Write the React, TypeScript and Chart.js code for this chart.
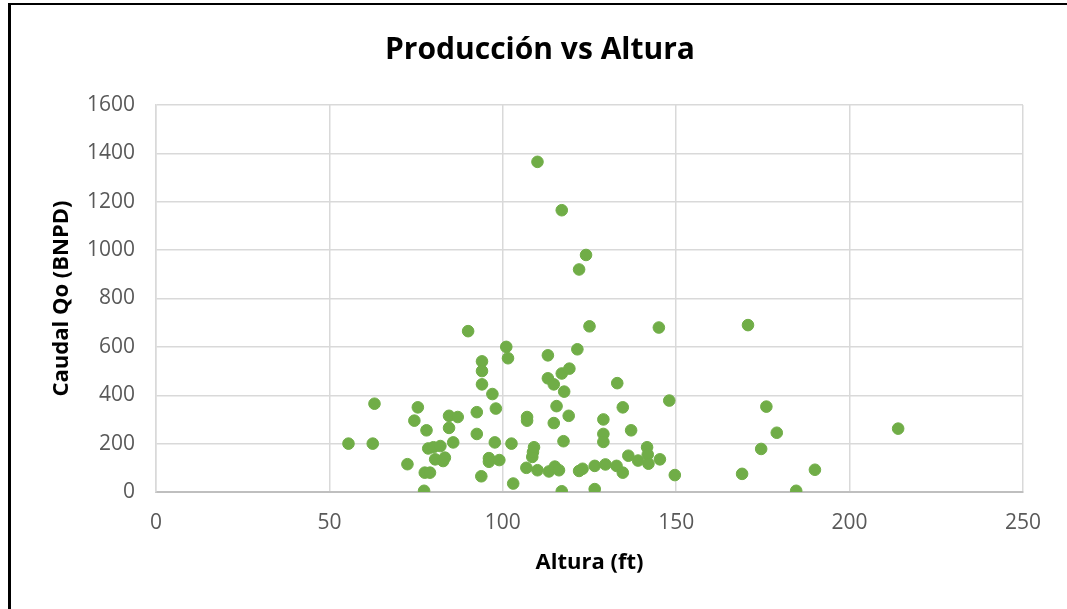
import React, { useEffect, useRef } from "react";
import { Chart, registerables } from "chart.js";

Chart.register(...registerables);

const chartTitle = "Producción vs Altura";
const xAxisTitle = "Altura (ft)";
const yAxisTitle = "Caudal Qo (BNPD)";

const alturaFt: number[] = [
  55.5, 62.5, 63, 72.5, 74.5, 75.5, 77.3, 77.5, 79, 78, 78.5, 80, 82, 80.5, 82.8, 83.3,
  84.5, 87, 84.5, 85.7, 90, 92.5, 92.5, 93.8, 94, 94, 94, 96, 96, 97, 97.7, 98, 99,
  101, 101.5, 102.5, 103, 106.8, 107, 107, 108.5, 108.7, 109, 110, 110, 113, 113, 113.3,
  114.7, 114.7, 115, 115.5, 116.2, 117, 117, 117, 117.5, 117.7, 119, 119.2, 121.5, 122,
  122, 123, 124, 125, 126.5, 126.5, 129, 129, 129, 129.6, 132.8, 133, 134.6, 134.6,
  136.2, 137, 139, 141.6, 141.8, 142, 145, 145.3, 148, 149.6, 169, 170.7, 174.5, 176,
  179, 184.6, 190, 214,
];

const caudalQo: number[] = [
  200, 200, 365, 115, 295, 350, 5, 80, 80, 255, 180, 185, 190, 135, 128, 142,
  315, 310, 265, 205, 665, 330, 240, 65, 540, 500, 445, 140, 125, 405, 205, 345, 132,
  600, 553, 200, 35, 100, 310, 295, 145, 165, 185, 90, 1365, 565, 470, 85,
  445, 285, 105, 355, 90, 3, 490, 1165, 210, 415, 315, 510, 590, 920,
  87, 96, 980, 685, 108, 12, 300, 240, 207, 114, 108, 450, 350, 80,
  150, 255, 130, 185, 155, 117, 680, 135, 378, 70, 75, 690, 178, 353,
  245, 5, 92, 262,
];

const xTicks = { min: 0, max: 250, step: 50 };
const yTicks = { min: 0, max: 1600, step: 200 };

const W = 1067;
const H = 609;
const PLOT_LEFT = 156;
const PLOT_RIGHT = 1023;
const PLOT_TOP = 105;
const PLOT_BOTTOM = 492;

export default function App() {
  const ref = useRef<HTMLCanvasElement | null>(null);

  useEffect(() => {
    if (!ref.current) return;
    const points = alturaFt.map((x, i) => ({ x, y: caudalQo[i] }));

    const titlePlugin = {
      id: "customTitle",
      afterDraw(chart: any) {
        const ctx = chart.ctx;
        ctx.save();
        ctx.font = "bold 30px 'Open Sans'";
        ctx.fillStyle = "#000000";
        ctx.textAlign = "center";
        ctx.textBaseline = "middle";
        ctx.fillText(chartTitle, 540, 50);
        ctx.restore();
      },
    };

    const chart = new Chart(ref.current, {
      type: "scatter",
      data: {
        datasets: [
          {
            label: "Caudal",
            data: points,
            backgroundColor: "#70ad47",
            borderColor: "#70ad47",
            borderWidth: 1,
            pointRadius: 5.8,
            pointHoverRadius: 5.8,
          },
        ],
      },
      options: {
        responsive: false,
        animation: false,
        layout: {
          padding: { left: 0, right: W - PLOT_RIGHT, top: PLOT_TOP, bottom: 0 },
        },
        plugins: {
          legend: { display: false },
          title: { display: false },
          tooltip: { enabled: false },
        },
        scales: {
          x: {
            type: "linear",
            min: xTicks.min,
            max: xTicks.max,
            ticks: {
              stepSize: xTicks.step,
              color: "#595959",
              font: { family: "'Open Sans'", size: 21 },
              padding: 18,
              maxRotation: 0,
              callback: (v: any) => String(v),
            },
            grid: { color: "#d9d9d9", lineWidth: 1.5, drawTicks: false },
            border: { color: "#bfbfbf", width: 2 },
            title: {
              display: true,
              text: xAxisTitle,
              color: "#000000",
              font: { family: "'Open Sans'", size: 22, weight: "bold" },
              padding: { top: 0, bottom: 33 },
            },
            afterFit(scale: any) {
              scale.height = H - PLOT_BOTTOM;
            },
          },
          y: {
            type: "linear",
            min: yTicks.min,
            max: yTicks.max,
            ticks: {
              stepSize: yTicks.step,
              color: "#595959",
              font: { family: "'Open Sans'", size: 21 },
              padding: 21,
              callback: (v: any) => String(v),
            },
            grid: { color: "#d9d9d9", lineWidth: 1.5, drawTicks: false },
            border: { color: "#d9d9d9", width: 1.5 },
            title: {
              display: true,
              text: yAxisTitle,
              color: "#000000",
              font: { family: "'Open Sans'", size: 22, weight: "bold" },
              padding: { top: 49, bottom: 0 },
            },
            afterFit(scale: any) {
              scale.width = PLOT_LEFT;
            },
          },
        },
      },
      plugins: [titlePlugin],
    } as any);

    return () => chart.destroy();
  }, []);

  return (
    <div
      style={{
        position: "fixed",
        left: 0,
        top: 0,
        width: W,
        height: H,
        background: "#ffffff",
        overflow: "hidden",
      }}
    >
      <canvas ref={ref} width={W} height={H} style={{ position: "absolute", left: 0, top: 0, width: W, height: H }} />
      <div
        style={{
          position: "absolute",
          left: 8,
          top: 3,
          width: W,
          height: H,
          borderLeft: "3px solid #000",
          borderTop: "2px solid #000",
          pointerEvents: "none",
        }}
      />
    </div>
  );
}
